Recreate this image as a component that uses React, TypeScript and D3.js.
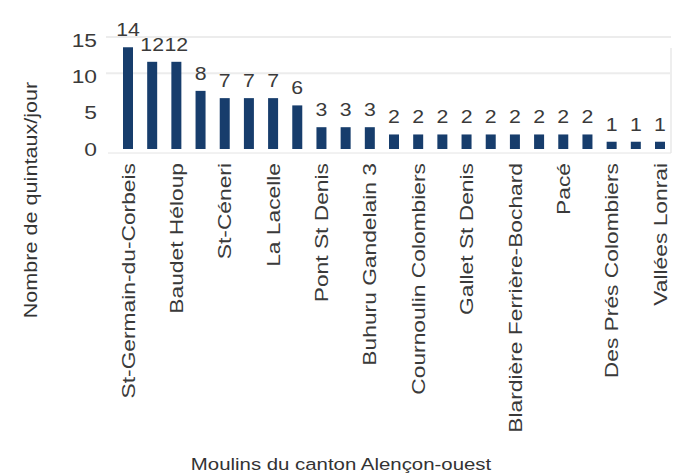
import * as d3 from 'd3';

// category names; only every other mill is labelled on the axis
const mills = [
    "St-Germain-du-Corbeis", "", "Baudet Héloup", "", "St-Céneri", "", "La Lacelle", "",
    "Pont St Denis", "", "Buhuru Gandelain 3", "", "Cournoulin Colombiers", "", "Gallet St Denis", "",
    "Blardière Ferrière-Bochard", "", "Pacé", "", "Des Prés Colombiers", "", "Vallées Lonrai",
];
const quintaux = [14, 12, 12, 8, 7, 7, 7, 6, 3, 3, 3, 2, 2, 2, 2, 2, 2, 2, 2, 2, 1, 1, 1];
const yTicks = [0, 5, 10, 15];
const yTitle = "Nombre de quintaux/jour";
const xTitle = "Moulins du canton Alençon-ouest";

const W = 677;
const H = 475;
const FONT = "'Liberation Sans', Arial, sans-serif";
const STRETCH = 1.2; // text in the picture is drawn wide

export default function App() {
    const x = d3.scalePoint<number>()
        .domain(d3.range(quintaux.length))
        .range([128, 660]);

    const y = d3.scaleLinear()
        .domain([0, 15])
        .range([149, 40]);

    const barW = 10;

    return (
        <svg width={W} height={H} style={{ position: 'absolute', left: 0, top: 0, background: '#fff' }}
            fontFamily={FONT}>
            {/* light grid */}
            {yTicks.filter(t => t > 5).map(t => (
                <line key={t} x1={106} x2={671} y1={y(t) - 3} y2={y(t) - 3} stroke="#ececec" strokeWidth={2} />
            ))}
            <line x1={671} x2={671} y1={y(15) + 8} y2={y(0) + 4} stroke="#eeeeee" strokeWidth={2} />
            <line x1={108} x2={671} y1={y(0) + 4} y2={y(0) + 4} stroke="#e4e4e4" strokeWidth={1} />

            {/* y tick labels */}
            {yTicks.map(t => (
                <text key={t} transform={`translate(97,${y(t)}) scale(${STRETCH},1)`} textAnchor="end"
                    dy="0.35em" fontSize={19} fill="#3a3a3a">{t}</text>
            ))}

            {/* bars */}
            {quintaux.map((v, i) => (
                <rect key={i} x={(x(i) as number) - barW / 2} y={y(v)} width={barW} height={y(0) - y(v)}
                    fill="#173d6c" />
            ))}

            {/* value labels */}
            {quintaux.map((v, i) => (
                <text key={i} transform={`translate(${x(i)},${y(v) - 11}) scale(1.12,1)`} textAnchor="middle"
                    fontSize={19} fill="#3a3a3a">{v}</text>
            ))}

            {/* category labels */}
            {mills.map((m, i) => m && (
                <text key={i} transform={`translate(${x(i)},163) rotate(-90) scale(${STRETCH},1)`}
                    textAnchor="end" dy="0.35em" fontSize={19} fill="#3a3a3a">{m}</text>
            ))}

            {/* axis titles */}
            <text transform={`translate(31,200) rotate(-90) scale(${STRETCH},1)`} textAnchor="middle"
                dy="0.35em" fontSize={18} fill="#333">{yTitle}</text>
            <text transform={`translate(341,470) scale(${STRETCH},1)`} textAnchor="middle"
                fontSize={17} fill="#333">{xTitle}</text>
        </svg>
    );
}
